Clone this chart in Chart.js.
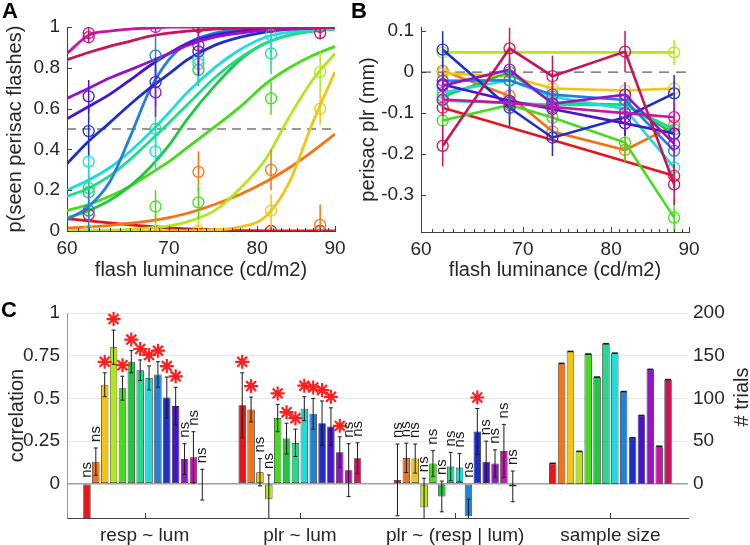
<!DOCTYPE html>
<html>
<head>
<meta charset="utf-8">
<script src="https://cdn.jsdelivr.net/npm/chart.js@4.4.1/dist/chart.umd.min.js"></script>
<style>
  html, body { margin: 0; padding: 0; background: #fff; }
  #page { position: relative; width: 750px; height: 545px; overflow: hidden; font-family: "Liberation Sans", Arial, sans-serif; }
  canvas { position: absolute; left: 0; top: 0; }
  .panel { position: absolute; font-weight: bold; font-size: 22px; line-height: 22px; color: #000; }
</style>
</head>
<body>
<div id="page">
  <canvas id="chartA" width="750" height="545"></canvas>
  <canvas id="chartB" width="750" height="545"></canvas>
  <canvas id="chartC" width="750" height="545"></canvas>
  <div class="panel" style="left:2px;top:0px">A</div>
  <div class="panel" style="left:351px;top:0px">B</div>
  <div class="panel" style="left:1px;top:299px">C</div>
</div>
<script>
// one colour per subject
var colors = ['#e8141c', '#f57314', '#f2c414', '#b4e61e', '#46dc1e', '#1ec83c', '#1edc8c',
              '#1edcdc', '#1e82dc', '#1e2ec8', '#4614cd', '#9614c8', '#c814aa', '#c8145a'];

// flash luminances (cd/m2)
var lumX = [62, 68.6, 73.2, 81.7, 88];
var lumTicks = [60, 70, 80, 90];

// A: fitted psychometric curves, read at fitX
var fitX = [60, 62, 64, 66, 68, 70, 72, 75, 78, 81, 84, 87, 90];
var respFit = [
  [0.06, 0.05, 0.04, 0.03, 0.022, 0.015, 0.01, 0.005, 0.002, 0.001, 0, 0, 0],
  [0.015, 0.02, 0.028, 0.038, 0.05, 0.066, 0.087, 0.13, 0.18, 0.24, 0.31, 0.39, 0.475],
  [0, 0, 0, 0, 0, 0, 0.001, 0.005, 0.02, 0.07, 0.24, 0.53, 0.78],
  [0.001, 0.002, 0.004, 0.008, 0.015, 0.025, 0.045, 0.1, 0.21, 0.35, 0.56, 0.74, 0.87],
  [0.10, 0.13, 0.17, 0.22, 0.28, 0.34, 0.41, 0.51, 0.61, 0.72, 0.80, 0.86, 0.905],
  [0.065, 0.10, 0.15, 0.22, 0.31, 0.42, 0.55, 0.71, 0.84, 0.92, 0.96, 0.98, 0.99],
  [0.17, 0.21, 0.27, 0.35, 0.44, 0.53, 0.62, 0.75, 0.85, 0.92, 0.96, 0.98, 0.99],
  [0.20, 0.25, 0.31, 0.39, 0.48, 0.58, 0.68, 0.80, 0.89, 0.95, 0.975, 0.99, 0.995],
  [0.055, 0.12, 0.24, 0.46, 0.69, 0.84, 0.92, 0.97, 0.99, 0.995, 1, 1, 1],
  [0.33, 0.44, 0.53, 0.62, 0.70, 0.77, 0.84, 0.91, 0.95, 0.975, 0.99, 0.995, 1],
  [0.55, 0.61, 0.67, 0.74, 0.81, 0.87, 0.92, 0.96, 0.98, 0.99, 1, 1, 1],
  [0.65, 0.70, 0.75, 0.79, 0.83, 0.87, 0.91, 0.95, 0.97, 0.985, 0.99, 0.995, 1],
  [0.87, 0.96, 0.98, 0.99, 0.995, 1, 1, 1, 1, 1, 1, 1, 1],
  [0.84, 0.875, 0.905, 0.93, 0.955, 0.97, 0.98, 0.99, 0.995, 1, 1, 1, 1]
];
// A: observed proportions at lumX
var respObs = [
  [0.08, 0, null, 0, 0],
  [null, null, 0.29, 0.30, 0.03],
  [null, null, 0, 0.10, 0.60],
  [0, 0, null, null, 0.78],
  [null, 0.12, 0.14, 0.65, null],
  [0.19, null, 0.79, null, null],
  [0.21, 0.50, 0.82, 0.87, null],
  [0.34, 0.39, 0.84, 0.96, null],
  [0.10, 0.86, null, null, null],
  [0.49, 0.73, 0.88, null, null],
  [0.66, null, null, null, null],
  [null, 0.68, 0.91, null, null],
  [0.97, 1.0, null, null, 1.0],
  [0.95, null, 1.0, 1.0, 0.97]
];
var respErr = [0.03, 0.1, 0.08, 0.1, 0.08, 0.08, 0.1, 0.1, 0.1, 0.12, 0.08, 0.12, 0.03, 0.03];
var respTicks = [0, 0.2, 0.4, 0.6, 0.8, 1];

// B: perisaccadic pupil response (mm)
var plrObs = [
  [-0.087, null, null, null, -0.253],
  [0.003, -0.058, -0.145, -0.19, -0.13],
  [-0.003, -0.01, -0.04, -0.045, -0.04],
  [0.048, null, null, null, 0.048],
  [-0.118, -0.08, -0.111, -0.172, -0.355],
  [-0.06, 0.0, -0.075, -0.08, -0.15],
  [-0.07, -0.075, -0.08, -0.08, -0.14],
  [-0.05, -0.02, -0.06, -0.09, -0.233],
  [-0.021, -0.02, -0.055, -0.068, -0.192],
  [0.055, -0.087, -0.16, -0.11, -0.052],
  [-0.03, -0.07, -0.09, -0.125, -0.15],
  [-0.033, 0.006, -0.077, -0.055, -0.175],
  [-0.067, -0.075, -0.085, -0.1, -0.11],
  [-0.18, 0.058, -0.01, 0.05, -0.274]
];
var plrErr = [0.03, 0.03, 0.02, 0.03, 0.045, 0.03, 0.03, 0.03, 0.03, 0.045, 0.03, 0.03, 0.04, 0.05];
var plrTicks = [-0.3, -0.2, -0.1, 0, 0.1];

// C: correlations per subject
var groups = ['resp ~ lum', 'plr ~ lum', 'plr ~ (resp | lum)', 'sample size'];
var corrRespLum = [-0.35, 0.13, 0.58, 0.80, 0.56, 0.715, 0.665, 0.62, 0.64, 0.505, 0.455, 0.145, 0.155, -0.005];
var errRespLum  = [0.1, 0.08, 0.07, 0.10, 0.07, 0.065, 0.06, 0.07, 0.075, 0.12, 0.11, 0.09, 0.15, 0.09];
var sigRespLum  = [0, 0, 1, 1, 1, 1, 1, 1, 1, 1, 1, 0, 0, 0];
var corrPlrLum  = [0.46, 0.435, 0.068, -0.088, 0.385, 0.265, 0.24, 0.44, 0.41, 0.355, 0.335, 0.185, 0.08, 0.15];
var errPlrLum   = [0.19, 0.073, 0.08, 0.14, 0.08, 0.09, 0.08, 0.07, 0.09, 0.13, 0.11, 0.09, 0.155, 0.09];
var sigPlrLum   = [1, 1, 0, 0, 1, 1, 1, 1, 1, 1, 1, 1, 0, 0];
var corrPlrResp = [0.023, 0.152, 0.148, -0.137, 0.119, -0.074, 0.101, 0.095, -0.19, 0.306, 0.13, 0.119, 0.193, -0.015];
var errPlrResp  = [0.21, 0.086, 0.085, 0.17, 0.075, 0.09, 0.083, 0.083, 0.1, 0.135, 0.12, 0.08, 0.155, 0.09];
var sigPlrResp  = [0, 0, 0, 0, 0, 0, 0, 0, 0, 1, 0, 0, 0, 0];
var nTrials = [24, 141, 155, 38, 152, 125, 164, 153, 108, 54, 80, 134, 44, 122];
var corrTicks = [0, 0.25, 0.5, 0.75, 1];
var trialTicks = [0, 50, 100, 150, 200];

Chart.defaults.font.family = '"Liberation Sans", Arial, sans-serif';
Chart.defaults.color = '#262626';
Chart.defaults.animation = false;
Chart.defaults.plugins.legend.display = false;
Chart.defaults.plugins.tooltip.enabled = false;

var axisGray = '#404040';
var tickFont = { size: 19 };
var titleFont = { size: 20 };

function fixTicks(list) {
    return function (s) {
        s.ticks = list.map(function (v) { return { value: v }; });
    };
}
function plain(v) { return String(v); }

function lumScale(height) {
    return {
        type: 'logarithmic', min: 60, max: 90,
        afterBuildTicks: fixTicks(lumTicks),
        afterFit: function (s) { s.height = height; },
        ticks: { font: tickFont, padding: 6, maxRotation: 0, callback: plain },
        grid: { display: false, drawTicks: false },
        border: { display: true, color: axisGray },
        title: { display: true, text: 'flash luminance (cd/m2)', font: titleFont, padding: { top: 0, bottom: 0 } }
    };
}

// inward ticks, log minor ticks and error bars for A and B
function lumDecor(obs, err, lo, hi) {
    return {
        id: 'lumDecor',
        afterDatasetsDraw: function (chart) {
            var ctx = chart.ctx, xs = chart.scales.x, ys = chart.scales.y, a = chart.chartArea;
            ctx.save();
            ctx.beginPath();
            ctx.rect(a.left, a.top, a.right - a.left, a.bottom - a.top);
            ctx.clip();
            ctx.lineWidth = 1.5;
            obs.forEach(function (row, i) {
                ctx.strokeStyle = colors[i];
                row.forEach(function (v, j) {
                    if (v === null) return;
                    var px = xs.getPixelForValue(lumX[j]);
                    ctx.beginPath();
                    ctx.moveTo(px, ys.getPixelForValue(Math.max(v - err[i], lo)));
                    ctx.lineTo(px, ys.getPixelForValue(Math.min(v + err[i], hi)));
                    ctx.stroke();
                });
            });
            ctx.restore();

            ctx.save();
            ctx.strokeStyle = axisGray;
            ctx.lineWidth = 1;
            ctx.beginPath();
            ys.ticks.forEach(function (t) {
                var p = Math.round(ys.getPixelForValue(t.value)) + 0.5;
                ctx.moveTo(a.left, p);
                ctx.lineTo(a.left + 5, p);
            });
            for (var v = 60; v <= 90; v++) {
                var p = Math.round(xs.getPixelForValue(v)) + 0.5;
                var len = (v % 10 === 0) ? 5 : 3;
                ctx.moveTo(p, a.bottom);
                ctx.lineTo(p, a.bottom - len);
            }
            ctx.stroke();
            ctx.restore();
        }
    };
}

// ---------- A ----------
var dsA = [];
colors.forEach(function (c, i) {
    dsA.push({
        data: fitX.map(function (x, j) { return { x: x, y: respFit[i][j] }; }),
        borderColor: c, borderWidth: 2.8, pointRadius: 0,
        cubicInterpolationMode: 'monotone', order: 80 - i
    });
    dsA.push({
        data: lumX.map(function (x, j) { return { x: x, y: respObs[i][j] }; }),
        showLine: false, pointRadius: 5.5, pointBorderWidth: 1.3,
        pointBorderColor: c, pointBackgroundColor: 'rgba(0,0,0,0)', order: 50 - i
    });
});
dsA.push({
    data: [{ x: 60, y: 0.5 }, { x: 90, y: 0.5 }],
    borderColor: '#333', borderWidth: 1, borderDash: [9, 6], pointRadius: 0, order: 200
});

new Chart(document.getElementById('chartA'), {
    type: 'line',
    data: { datasets: dsA },
    options: {
        responsive: false,
        layout: { padding: { left: 0, top: 27, right: 415, bottom: 263 } },
        scales: {
            x: lumScale(51),
            y: {
                min: 0, max: 1,
                afterBuildTicks: fixTicks(respTicks),
                afterFit: function (s) { s.width = 67; },
                ticks: { font: tickFont, padding: 7, callback: plain },
                grid: { display: false, drawTicks: false },
                border: { display: true, color: axisGray },
                title: { display: true, text: 'p(seen perisac flashes)', font: titleFont, padding: { top: 3, bottom: 0 } }
            }
        }
    },
    plugins: [lumDecor(respObs, respErr, 0, 1)]
});

// ---------- B ----------
var dsB = [];
colors.forEach(function (c, i) {
    dsB.push({
        data: lumX.map(function (x, j) { return { x: x, y: plrObs[i][j] }; }),
        borderColor: c, borderWidth: 2.6, spanGaps: true,
        pointRadius: 5.5, pointBorderWidth: 1.3,
        pointBorderColor: c, pointBackgroundColor: 'rgba(0,0,0,0)', order: 50 - i
    });
});
dsB.push({
    data: [{ x: 60, y: 0 }, { x: 90, y: 0 }],
    borderColor: '#333', borderWidth: 1, borderDash: [10, 7], pointRadius: 0, order: 200
});

new Chart(document.getElementById('chartB'), {
    type: 'line',
    data: { datasets: dsB },
    options: {
        responsive: false,
        layout: { padding: { left: 353, top: 27, right: 61, bottom: 263 } },
        scales: {
            x: lumScale(50),
            y: {
                min: -0.39, max: 0.11,
                afterBuildTicks: fixTicks(plrTicks),
                afterFit: function (s) { s.width = 68; },
                ticks: { font: tickFont, padding: 7, callback: plain },
                grid: { display: false, drawTicks: false },
                border: { display: true, color: axisGray },
                title: { display: true, text: 'perisac plr (mm)', font: titleFont, padding: { top: 3, bottom: 0 } }
            }
        }
    },
    plugins: [lumDecor(plrObs, plrErr, -1, 1)]
});

// ---------- C ----------
var corrSets = [corrRespLum, corrPlrLum, corrPlrResp];
var errSets = [errRespLum, errPlrLum, errPlrResp];
var sigSets = [sigRespLum, sigPlrLum, sigPlrResp];

var dsC = [];
colors.forEach(function (c, i) {
    dsC.push({
        data: [corrRespLum[i], corrPlrLum[i], corrPlrResp[i], null],
        backgroundColor: c, borderColor: '#2a2a2a', borderWidth: 0.8, borderSkipped: false,
        yAxisID: 'y', skipNull: true, categoryPercentage: 0.8, barPercentage: 0.84
    });
});
colors.forEach(function (c, i) {
    dsC.push({
        data: [null, null, null, nTrials[i]],
        backgroundColor: c, borderColor: '#2a2a2a', borderWidth: 0.8, borderSkipped: false,
        yAxisID: 'y2', skipNull: true, categoryPercentage: 0.8, barPercentage: 0.84
    });
});

function drawStar(ctx, x, y) {
    ctx.save();
    ctx.strokeStyle = '#ff1f1f';
    ctx.lineWidth = 2.2;
    ctx.beginPath();
    for (var k = 0; k < 4; k++) {
        var ang = k * Math.PI / 4;
        ctx.moveTo(x - 7 * Math.cos(ang), y - 7 * Math.sin(ang));
        ctx.lineTo(x + 7 * Math.cos(ang), y + 7 * Math.sin(ang));
    }
    ctx.stroke();
    ctx.restore();
}

var barDecor = {
    id: 'barDecor',
    afterDatasetsDraw: function (chart) {
        var ctx = chart.ctx, ys = chart.scales.y, a = chart.chartArea;
        ctx.save();
        ctx.beginPath();
        ctx.rect(a.left, a.top - 30, a.right - a.left, a.bottom - a.top + 30);
        ctx.clip();
        ctx.strokeStyle = '#1a1a1a';
        ctx.lineWidth = 1;
        for (var i = 0; i < colors.length; i++) {
            var meta = chart.getDatasetMeta(i);
            for (var g = 0; g < 3; g++) {
                var bar = meta.data[g];
                var v = corrSets[g][i], e = errSets[g][i];
                var top = ys.getPixelForValue(v + e), bot = ys.getPixelForValue(v - e);
                ctx.beginPath();
                ctx.moveTo(bar.x, top); ctx.lineTo(bar.x, bot);
                ctx.moveTo(bar.x - 2, top); ctx.lineTo(bar.x + 2, top);
                ctx.moveTo(bar.x - 2, bot); ctx.lineTo(bar.x + 2, bot);
                ctx.stroke();
                var anchor = ys.getPixelForValue(Math.max(v + e, 0));
                if (sigSets[g][i]) {
                    drawStar(ctx, bar.x, anchor - 11);
                } else {
                    ctx.save();
                    ctx.fillStyle = '#1a1a1a';
                    ctx.font = '15px "Liberation Sans", Arial, sans-serif';
                    ctx.translate(bar.x, anchor - 6);
                    ctx.rotate(-Math.PI / 2);
                    ctx.textAlign = 'left';
                    ctx.textBaseline = 'middle';
                    ctx.fillText('ns', 0, 0);
                    ctx.restore();
                }
            }
            var sb = chart.getDatasetMeta(colors.length + i).data[3];
            ctx.beginPath();
            ctx.lineWidth = 1.6;
            ctx.moveTo(sb.x - 3, sb.y); ctx.lineTo(sb.x + 3, sb.y);
            ctx.stroke();
            ctx.lineWidth = 1;
        }
        ctx.restore();

        // inward ticks at group centres
        var xs = chart.scales.x;
        ctx.save();
        ctx.strokeStyle = axisGray;
        ctx.lineWidth = 1;
        ctx.beginPath();
        groups.forEach(function (gname, k) {
            var p = Math.round(xs.getPixelForValue(k)) + 0.5;
            ctx.moveTo(p, a.bottom);
            ctx.lineTo(p, a.bottom - 5);
        });
        ctx.stroke();
        ctx.restore();
    },
    afterDraw: function (chart) {
        var ctx = chart.ctx;
        ctx.save();
        ctx.fillStyle = '#262626';
        ctx.font = '20px "Liberation Sans", Arial, sans-serif';
        ctx.translate(742, 397);
        ctx.rotate(-Math.PI / 2);
        ctx.textAlign = 'center';
        ctx.textBaseline = 'middle';
        ctx.fillText('# trials', 0, 0);
        ctx.restore();
    }
};

new Chart(document.getElementById('chartC'), {
    type: 'bar',
    data: { labels: groups, datasets: dsC },
    options: {
        responsive: false,
        layout: { padding: { left: 0, top: 313, right: 0, bottom: 0 } },
        scales: {
            x: {
                afterFit: function (s) { s.height = 27; },
                ticks: { font: tickFont, padding: 6, maxRotation: 0 },
                grid: { display: false, drawTicks: false },
                border: { display: true, color: axisGray }
            },
            y: {
                min: -0.2, max: 1,
                afterBuildTicks: fixTicks(corrTicks),
                afterFit: function (s) { s.width = 67; },
                ticks: { font: tickFont, padding: 7, callback: plain },
                grid: {
                    drawTicks: false,
                    color: function (c) { return (c.tick && c.tick.value === 0) ? '#a0a0a0' : '#e6e6e6'; },
                    lineWidth: function (c) { return (c.tick && c.tick.value === 0) ? 1.5 : 1; }
                },
                border: { display: true, color: '#9a9a9a' },
                title: { display: true, text: 'correlation', font: titleFont, padding: { top: 5, bottom: 0 } }
            },
            y2: {
                position: 'right', min: -40, max: 200,
                afterBuildTicks: fixTicks(trialTicks),
                afterFit: function (s) { s.width = 62; },
                ticks: { font: tickFont, padding: 5, callback: plain },
                grid: { display: false, drawTicks: false },
                border: { display: false }
            }
        }
    },
    plugins: [barDecor]
});
</script>
</body>
</html>
